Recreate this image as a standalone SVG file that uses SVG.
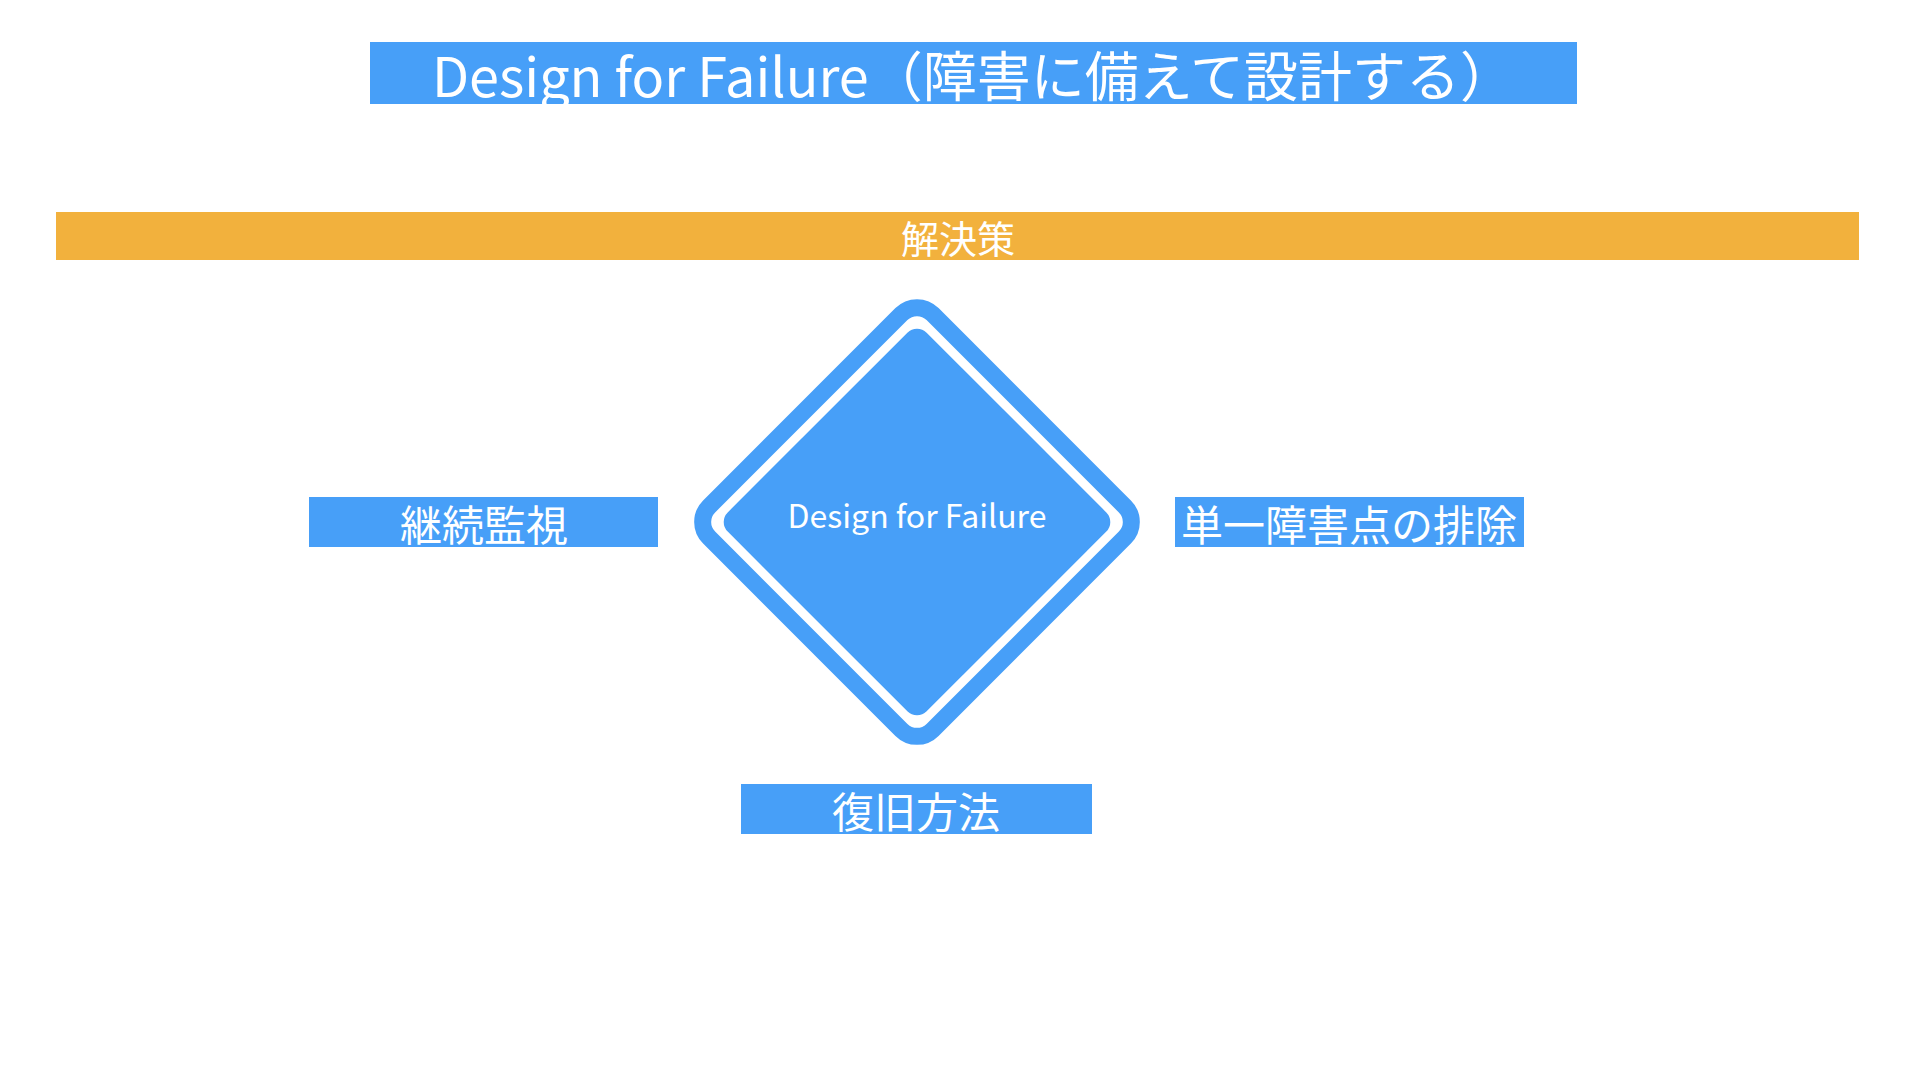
<svg xmlns="http://www.w3.org/2000/svg" width="1920" height="1080" viewBox="0 0 1920 1080">
<style>
.b{fill:#479ff8}
.t{fill:#fff;font-family:"Noto Sans CJK JP","Noto Sans",sans-serif;text-anchor:middle;dominant-baseline:central}
</style>
<rect width="1920" height="1080" fill="#fff"/>
<g id="title"><rect class="b" x="370" y="42" width="1207" height="62"/><text class="t" x="973" y="73" font-size="54">Design for Failure（障害に備えて設計する）</text></g>
<g id="header"><rect x="56" y="212" width="1803" height="48" fill="#f2b13d"/><text class="t" x="958" y="236" font-size="38">解決策</text></g>
<g id="center" transform="translate(917,522) rotate(45)">
<rect x="-158" y="-158" width="316" height="316" rx="22" fill="none" stroke="#479ff8" stroke-width="17"/>
<rect class="b" x="-145" y="-145" width="290" height="290" rx="14" transform="scale(0.97)"/>
</g>
<text class="t" x="917" y="514" font-size="32">Design for Failure</text>
<g id="left"><rect class="b" x="309" y="497" width="349" height="50"/><text class="t" x="484" y="522" font-size="42">継続監視</text></g>
<g id="right"><rect class="b" x="1175" y="497" width="349" height="50"/><text class="t" x="1349" y="522" font-size="42">単一障害点の排除</text></g>
<g id="bottom"><rect class="b" x="741" y="784" width="351" height="50"/><text class="t" x="916" y="809" font-size="42">復旧方法</text></g>
<g id="connectors"/>
</svg>
